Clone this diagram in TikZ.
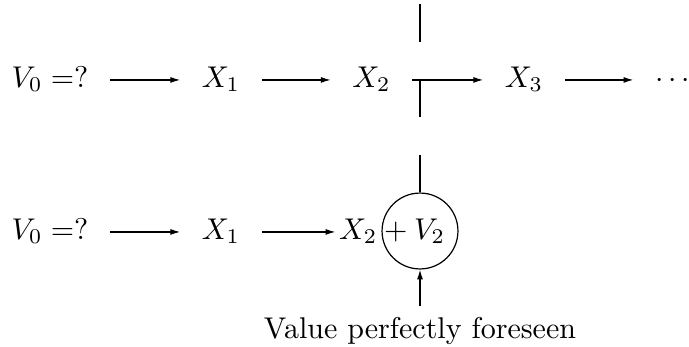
\documentclass[tikz,border=0pt]{standalone}
\usetikzlibrary{arrows.meta}

\begin{document}
\begin{tikzpicture}[x=0.3333pt,y=-0.3333pt,line width=0.4pt,
  flow/.style={-{Latex[length=3.3pt,width=2pt]}},
  term/.style={anchor=base,inner xsep=7pt,inner ysep=0pt,text height=7pt,text depth=2.3pt}]
\useasboundingbox (0,0) rectangle (689,346);
\node[term] (va) at (50,87) {$V_0=?$};
\node[term] (xa1) at (221,87) {$X_1$};
\node[term] (xa2) at (371.5,87) {$X_2$};
\node[term] (xa3) at (524,87) {$X_3$};
\node[term] (dots) at (672.5,87) {$\cdots$};
\draw[flow] (va) -- (xa1);
\draw[flow] (xa1) -- (xa2);
\draw[flow] (xa2) -- (xa3);
\draw[flow] (xa3) -- (dots);
\coordinate (cuttop) at (420,4);
\coordinate (cutup) at (420,42);
\coordinate (cutmid) at (420,80);
\coordinate (cutlow) at (420,117);
\draw (cuttop) -- (cutup);
\draw (cutmid) -- (cutlow);

\node[term] (vb) at (50,239) {$V_0=?$};
\node[term] (xb1) at (221,239) {$X_1$};
\node[term,inner xsep=1pt] (xb2) at (392,239) {$X_2+V_2$};
\node[circle,draw,inner sep=0pt,minimum size=25.3pt] (sum) at (420,231) {};
\coordinate (feed) at (420,155);
\node[anchor=base] (seen) at (420,338) {Value perfectly foreseen};
\draw[flow] (vb) -- (xb1);
\draw[flow] (xb1) -- (xb2);
\draw (feed) -- (sum);
\draw[flow] (seen) -- (sum);
\end{tikzpicture}
\end{document}
